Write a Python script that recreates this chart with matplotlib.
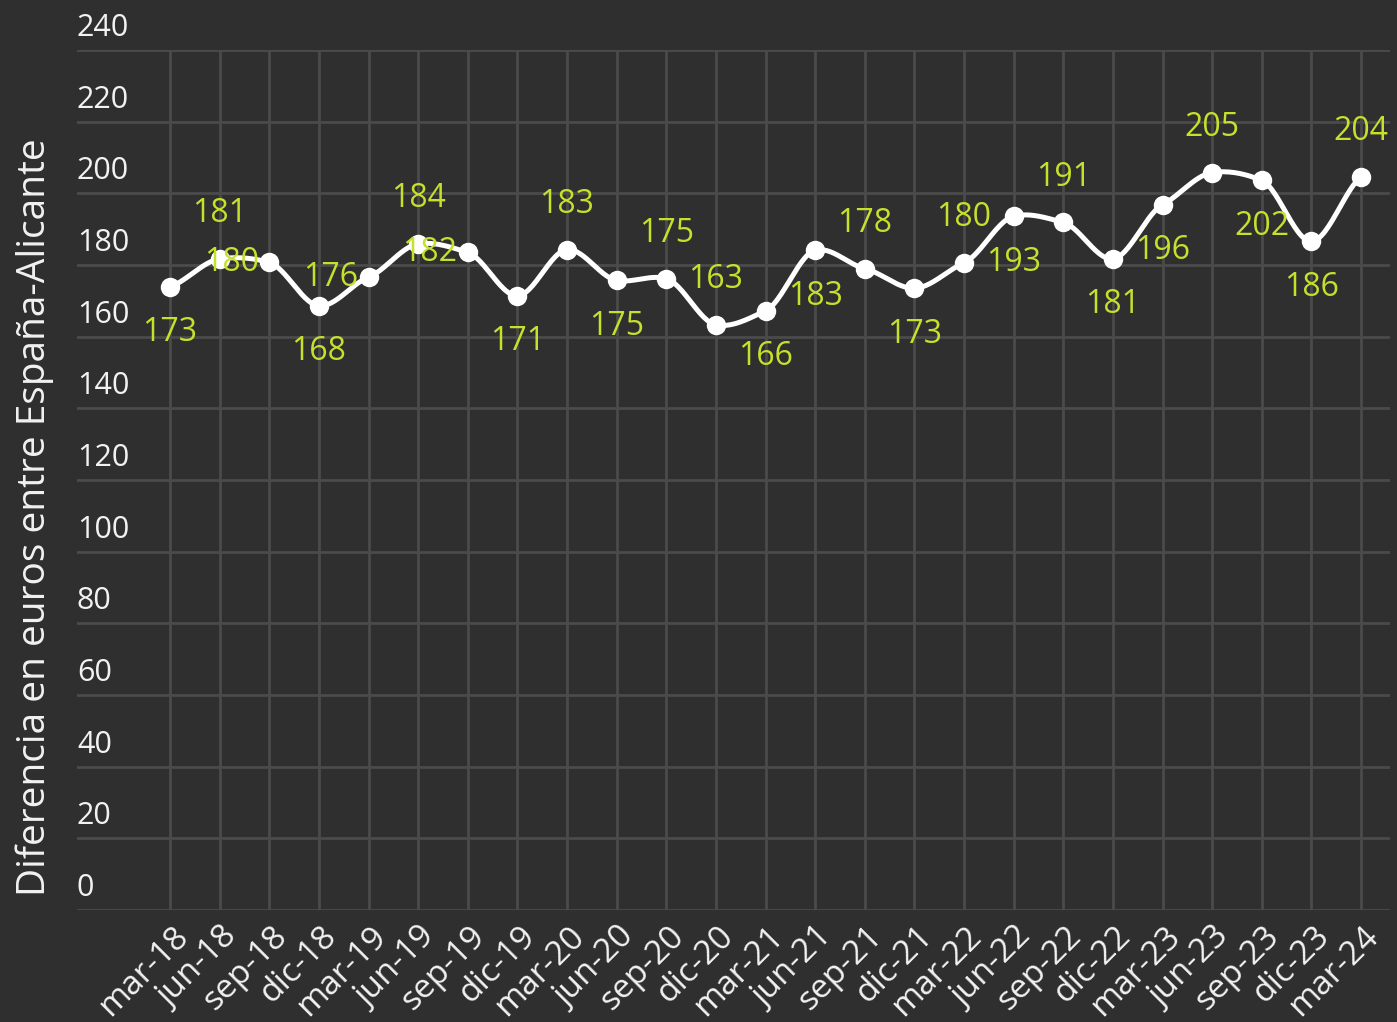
import numpy as np
import matplotlib
matplotlib.use("Agg")
import matplotlib.pyplot as plt
from matplotlib.transforms import ScaledTranslation

# quarters shown on the x axis
quarters = ["mar-18", "jun-18", "sep-18", "dic-18", "mar-19", "jun-19", "sep-19", "dic-19",
            "mar-20", "jun-20", "sep-20", "dic-20", "mar-21", "jun-21", "sep-21", "dic-21",
            "mar-22", "jun-22", "sep-22", "dic-22", "mar-23", "jun-23", "sep-23", "dic-23",
            "mar-24"]
# values
values = [173.9, 181.7, 180.7, 168.6, 176.6, 185.9, 183.5, 171.4,
          184.3, 175.7, 176.2, 163.3, 167.2, 184.1, 179.0, 173.5,
          180.6, 193.6, 191.9, 181.7, 196.8, 205.8, 203.6, 186.6,
          204.6]
# text of the value labels as printed on the chart
value_labels = ["173", "181", "180", "168", "176", "184", "182", "171",
                "183", "175", "175", "163", "166", "183", "178", "173",
                "180", "193", "191", "181", "196", "205", "202", "186",
                "204"]
y_ticks = list(range(0, 241, 20))

# where each value label sits relative to its point: a=above, b=below, l=left
label_pos = ["b", "a", "l", "b", "l", "a", "l", "b",
             "a", "b", "a", "a", "b", "b", "a", "b",
             "a", "b", "a", "b", "b", "a", "b", "b",
             "a"]

BG = "#2f2f2f"
GRID = "#4b4b4b"
LABEL_COLOR = "#c6e02c"
TEXT = "#f2f2f2"
FONT = ["Open Sans", "DejaVu Sans"]

plt.rcParams["font.family"] = FONT

W, H = 1397, 1022
fig = plt.figure(figsize=(W / 100, H / 100), dpi=100, facecolor=BG)

# plot area in pixels
left_px, right_px = 77, 1390
top_px, bottom_px = 50, 910
ax = fig.add_axes([left_px / W, (H - bottom_px) / H,
                   (right_px - left_px) / W, (bottom_px - top_px) / H])
ax.set_facecolor(BG)

# first category at x=170px, spacing ~49.63px
step = (1361 - 170) / 24
x0 = (left_px - 170) / step
x1 = (right_px - 170) / step
ax.set_xlim(x0, x1)
ax.set_ylim(0, 240)
for s in ax.spines.values():
    s.set_visible(False)

xs = np.arange(len(values))
ys = np.array(values, dtype=float)

# grid
for t in y_ticks:
    ax.axhline(t, color=GRID, lw=2, zorder=1)
ax.vlines(xs, 0, 240, color=GRID, lw=2, zorder=1)

# smooth curve through the points (cubic hermite)
k = 0.6
m = np.zeros_like(ys)
m[1:-1] = (ys[2:] - ys[:-2]) / 2 * k
m[0] = (ys[1] - ys[0]) * k
m[-1] = (ys[-1] - ys[-2]) * k
cx, cy = [], []
t = np.linspace(0, 1, 30)
for i in range(len(ys) - 1):
    h00 = 2 * t**3 - 3 * t**2 + 1
    h10 = t**3 - 2 * t**2 + t
    h01 = -2 * t**3 + 3 * t**2
    h11 = t**3 - t**2
    cx.extend(xs[i] + t)
    cy.extend(h00 * ys[i] + h10 * m[i] + h01 * ys[i + 1] + h11 * m[i + 1])
ax.plot(cx, cy, color="white", lw=3.6, zorder=3, solid_capstyle="round")
ax.plot(xs, ys, "o", color="white", ms=14, mec="none", zorder=4)

# value labels
offsets = {"a": (0, 45), "b": (0, -46), "l": (-38, 0)}
for x, y, lab, p in zip(xs, ys, value_labels, label_pos):
    ax.annotate(lab, (x, y), xytext=offsets[p], textcoords="offset pixels",
                ha="center", va="center", color=LABEL_COLOR, fontsize=23, zorder=5)

# y tick labels sit above the gridlines at the left edge
ax.set_yticks([])
for v in y_ticks:
    ax.annotate(str(v), (0, v), xycoords=("axes fraction", "data"),
                xytext=(0, 7), textcoords="offset pixels",
                ha="left", va="bottom", color=TEXT, fontsize=22)

# x tick labels
ax.set_xticks(xs)
ax.set_xticklabels(quarters, rotation=45, ha="right", va="center",
                   rotation_mode="anchor", color=TEXT, fontsize=24)
ax.tick_params(axis="x", length=0, pad=0)
shift = ScaledTranslation(13 / 100, -22 / 100, fig.dpi_scale_trans)
for lbl in ax.get_xticklabels():
    lbl.set_transform(lbl.get_transform() + shift)

fig.text(35 / W, 1 - 517 / H, "Diferencia en euros entre España-Alicante",
         rotation=90, ha="center", va="center", color=TEXT, fontsize=28)

fig.savefig("out.png", dpi=100, facecolor=BG)
